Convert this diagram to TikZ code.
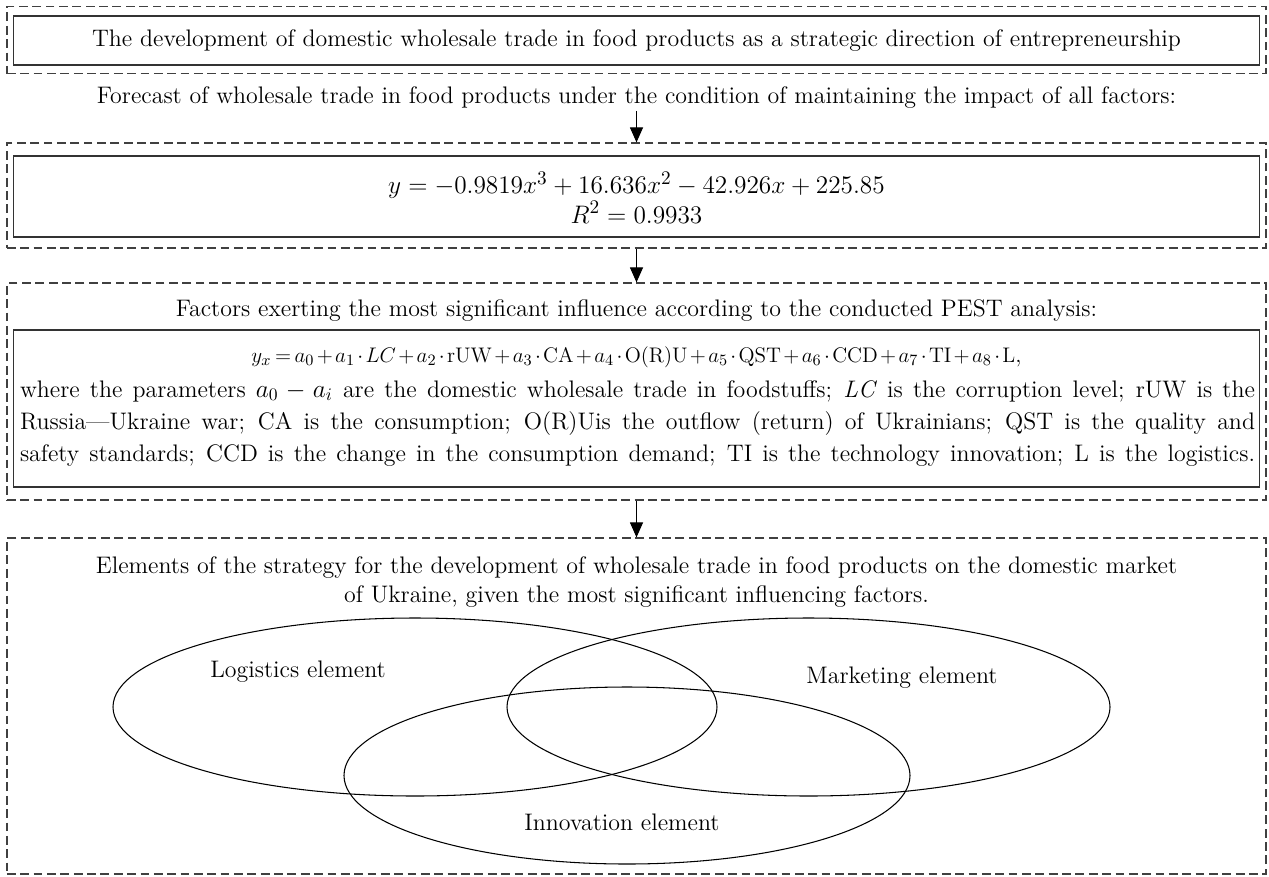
\documentclass[tikz,border=0pt]{standalone}
\usepackage{amsmath}
\usetikzlibrary{arrows.meta}

\tikzset{
  dashframe/.style={draw=black!75, dash pattern=on 5pt off 2.6pt, line width=0.7pt,
    minimum width=25.18cm, inner sep=0pt},
  solidbox/.style={draw=black!80, line width=0.8pt, minimum width=24.92cm, inner sep=0pt},
  txt/.style={font=\fontsize{13.6}{17}\selectfont, inner sep=1pt},
  noteline/.style={txt, anchor=base},
  flow/.style={-{Triangle[length=8.5pt,width=7.4pt]}, line width=0.6pt},
  venn/.style={line width=0.6pt},
}

\begin{document}
\begin{tikzpicture}
    \useasboundingbox (0,0) rectangle (25.38,-17.52);

    % Top block
    \node[dashframe, minimum height=1.34cm] (titleframe) at (12.73,-0.8) {};
    \node[solidbox, minimum height=0.98cm] (titlebox) at (12.73,-0.81) {};
    \node[txt] (title) at (12.73,-0.82) {The development of domestic wholesale trade in food products as a strategic direction of entrepreneurship};

    \node[txt] (forecast) at (12.73,-1.96) {Forecast of wholesale trade in food products under the condition of maintaining the impact of all factors:};

    % Trend block
    \node[dashframe, minimum height=2.1cm] (trendframe) at (12.73,-3.91) {};
    \node[solidbox, minimum height=1.62cm] (trendbox) at (12.73,-3.93) {};
    \node[txt, font=\fontsize{15.6}{16.8}\selectfont, align=center] (trend) at (12.73,-3.95)
      {$y = -0.9819x^3 + 16.636x^2 - 42.926x + 225.85$\\$R^2 = 0.9933$};

    % PEST block
    \node[dashframe, minimum height=4.34cm] (pestframe) at (12.73,-7.83) {};
    \node[solidbox, minimum height=3.14cm] (pestbox) at (12.73,-8.17) {};
    \node[txt] (pesthead) at (12.73,-6.22) {Factors exerting the most significant influence according to the conducted PEST analysis:};
    \node[txt, font=\fontsize{13}{16}\selectfont] (pestformula) at (12.73,-7.14)
      {\medmuskip=2mu\thickmuskip=3mu$y_x = a_0 + a_1\cdot LC + a_2\cdot\mathrm{rUW} + a_3\cdot\mathrm{CA} + a_4\cdot\mathrm{O(R)U} + a_5\cdot\mathrm{QST} + a_6\cdot\mathrm{CCD} + a_7\cdot\mathrm{TI} + a_8\cdot\mathrm{L}$,};
    \node[noteline] (pestnote1) at (12.75,-7.94) {\makebox[24.7cm][s]{where the parameters $a_0 - a_i$ are the domestic wholesale trade in foodstuffs; \textit{LC} is the corruption level; rUW is the}};
    \node[noteline] (pestnote2) at (12.75,-8.58) {\makebox[24.7cm][s]{Russia---Ukraine war; CA is the consumption; O(R)Uis the outflow (return) of Ukrainians; QST is the quality and}};
    \node[noteline] (pestnote3) at (12.75,-9.22) {\makebox[24.7cm][s]{safety standards; CCD is the change in the consumption demand; TI is the technology innovation; L is the logistics.}};

    % Strategy block
    \node[dashframe, minimum height=6.72cm] (strategyframe) at (12.73,-14.12) {};
    \node[txt, align=center] (strategyhead) at (12.73,-11.64) {Elements of the strategy for the development of wholesale trade in food products on the domestic market\\of Ukraine, given the most significant influencing factors.};

    \draw[venn] (8.3,-14.14) ellipse [x radius=6.04, y radius=1.78];
    \draw[venn] (16.17,-14.14) ellipse [x radius=6.03, y radius=1.78];
    \draw[venn] (12.54,-15.51) ellipse [x radius=5.66, y radius=1.77];
    \node[txt] (logistics) at (5.96,-13.44) {Logistics element};
    \node[txt] (marketing) at (18.04,-13.56) {Marketing element};
    \node[txt] (innovation) at (12.44,-16.44) {Innovation element};

    % Arrows between blocks
    \draw[flow] (forecast.south) -- (trendframe.north);
    \draw[flow] (trendframe.south) -- (pestframe.north);
    \draw[flow] (pestframe.south) -- (strategyframe.north);
\end{tikzpicture}
\end{document}
